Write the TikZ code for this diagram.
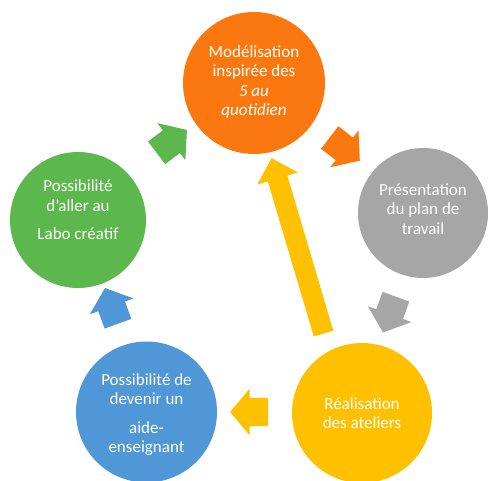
\documentclass[tikz,border=0pt]{standalone}
\usepackage{fontspec}
\setmainfont{Carlito}
\usetikzlibrary{shapes.arrows}
\definecolor{cOrange}{RGB}{250,120,15}
\definecolor{cGray}{RGB}{166,166,166}
\definecolor{cYellow}{RGB}{255,192,0}
\definecolor{cBlue}{RGB}{79,151,214}
\definecolor{cGreen}{RGB}{92,184,76}
\begin{document}
\begin{tikzpicture}[x=1pt,y=1pt,
  bubble/.style={circle, draw=none, inner sep=0pt, minimum size=#1},
  ltext/.style={text=white, align=center, inner sep=0pt,
    font=\fontsize{17}{19.5}\selectfont},
  blockarrow/.style={single arrow, draw=none, fill=#1, inner xsep=0pt,
    inner ysep=14pt, minimum width=0pt, minimum height=38pt,
    single arrow head extend=9pt, single arrow tip angle=100},
  longarrow/.style={single arrow, draw=none, fill=#1, inner xsep=0pt,
    inner ysep=10pt, minimum width=0pt, minimum height=183pt,
    single arrow head extend=11pt, single arrow tip angle=90}]
\useasboundingbox (0,0) rectangle (490,481);
% block arrows
\node[blockarrow=cOrange, rotate=-37.5] (a1) at (340,335.5) {};
\node[blockarrow=cGray, rotate=-110] (a2) at (391.5,172) {};
\node[blockarrow=cYellow, rotate=180] (a3) at (255,69) {};
\node[blockarrow=cBlue, rotate=110] (a4) at (113.5,169.5) {};
\node[blockarrow=cGreen, rotate=37] (a5) at (167,336) {};
\node[longarrow=cYellow, rotate=106.5] (a6) at (299,230.25) {};
% circles
\node[bubble=142pt, fill=cOrange] (orange) at (254,398) {};
\node[bubble=130pt, fill=cGray] (gray) at (423,268) {};
\node[bubble=140pt, fill=cYellow] (yellow) at (362,68) {};
\node[bubble=141pt, fill=cBlue] (blue) at (146.5,69) {};
\node[bubble=136pt, fill=cGreen] (green) at (78,261) {};
% texts
\node[ltext] (torange) at (254,399) {Modélisation\\inspirée des\\\textit{5 au}\\\textit{quotidien}};
\node[ltext] (tgray) at (423,272) {Présentation\\du plan de\\travail};
\node[ltext] (tyellow) at (362,68) {Réalisation\\des ateliers};
\node[ltext] (tblue) at (146.5,66.5) {Possibilité de\\devenir un\\[9pt]aide-\\enseignant};
\node[ltext] (tgreen) at (78,271) {Possibilité\\d’aller au\\[9pt]Labo créatif};
\end{tikzpicture}
\end{document}
